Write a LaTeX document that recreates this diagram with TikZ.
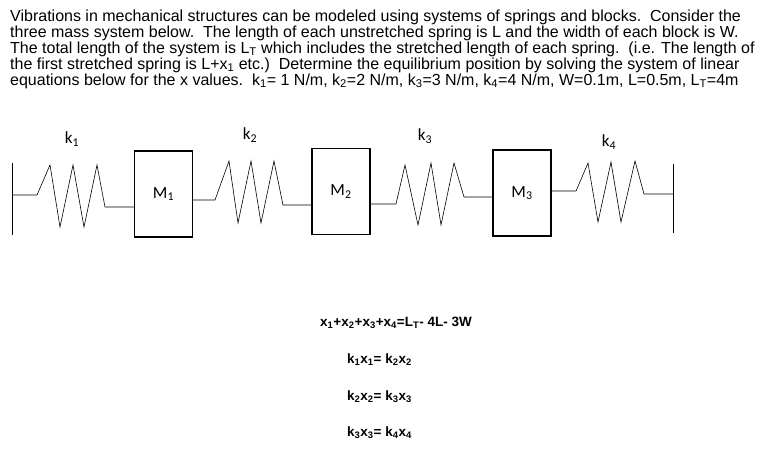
\documentclass[tikz,border=0pt]{standalone}
\usepackage{fontspec}
\setmainfont{Liberation Sans}
\newfontfamily\carfont{Carlito}
\newcommand{\subs}[1]{\textsubscript{#1}}
\begin{document}
\begin{tikzpicture}[x=1pt,y=-1pt,
  txt/.style={anchor=west,inner sep=0,font=\fontsize{16}{16}\selectfont},
  eq/.style={anchor=west,inner sep=0,font=\fontsize{13.5}{16}\selectfont\bfseries},
  mass/.style={draw,line width=1.2pt,minimum width=58pt,minimum height=86pt,inner sep=0,font=\carfont\fontsize{17}{17}\selectfont},
  klab/.style={inner sep=0,font=\carfont\fontsize{17}{17}\selectfont},
  spr/.style={line width=0.6pt,line join=miter}]
\useasboundingbox (0,0) rectangle (765,458);
\node[txt] (t1) at (10,17) {Vibrations in mechanical structures can be modeled using systems of springs and blocks.\ \ Consider the};
\node[txt] (t2) at (10,33) {three mass system below.\ \ The length of each unstretched spring is L and the width of each block is W.};
\node[txt] (t3) at (10,49) {The total length of the system is L\subs{T} which includes the stretched length of each spring.\ \ (i.e. The length of};
\node[txt] (t4) at (10,65) {the first stretched spring is L+x\subs{1} etc.)\ \ Determine the equilibrium position by solving the system of linear};
\node[txt] (t5) at (10,81) {equations below for the x values.\ \ k\subs{1}= 1 N/m, k\subs{2}=2 N/m, k\subs{3}=3 N/m, k\subs{4}=4 N/m, W=0.1m, L=0.5m, L\subs{T}=4m};

\node[mass] (m1) at (163.5,194) {M\subs{1}};
\node[mass] (m2) at (341,191.5) {M\subs{2}};
\node[mass] (m3) at (522,193) {M\subs{3}};

\coordinate (wl) at (12,195);
\coordinate (wr) at (673,194);
\draw[line width=0.8pt] (12,163) -- (12,235);
\draw[line width=0.8pt] (673,164) -- (673,233);

\draw[spr] (wl) -- (37,195) -- (50,165) -- (60,227) -- (73,165) -- (84,227) -- (97,165) -- (105,207) -- (m1.west |- 0,207);
\draw[spr] (m1.east |- 0,200) -- (215,200) -- (229,161) -- (238,223) -- (251,161) -- (261,223) -- (274,161) -- (283,205) -- (m2.west |- 0,205);
\draw[spr] (m2.east |- 0,204) -- (396,204) -- (405,165) -- (418,225) -- (431,163) -- (441,225) -- (454,163) -- (464,197) -- (m3.west |- 0,197);
\draw[spr] (m3.east |- 0,191) -- (576,191) -- (588,163) -- (598,222) -- (611,162) -- (621,222) -- (635,161) -- (644,194) -- (wr);

\node[klab] (k1) at (72,139) {k\subs{1}};
\node[klab] (k2) at (250,135) {k\subs{2}};
\node[klab] (k3) at (425,136) {k\subs{3}};
\node[klab] (k4) at (609,142) {k\subs{4}};

\node[eq] (e1) at (320,323) {x\subs{1}+x\subs{2}+x\subs{3}+x\subs{4}=L\subs{T}- 4L- 3W};
\node[eq] (e2) at (347,360) {k\subs{1}x\subs{1}= k\subs{2}x\subs{2}};
\node[eq] (e3) at (347,397) {k\subs{2}x\subs{2}= k\subs{3}x\subs{3}};
\node[eq] (e4) at (347,433) {k\subs{3}x\subs{3}= k\subs{4}x\subs{4}};
\end{tikzpicture}
\end{document}
